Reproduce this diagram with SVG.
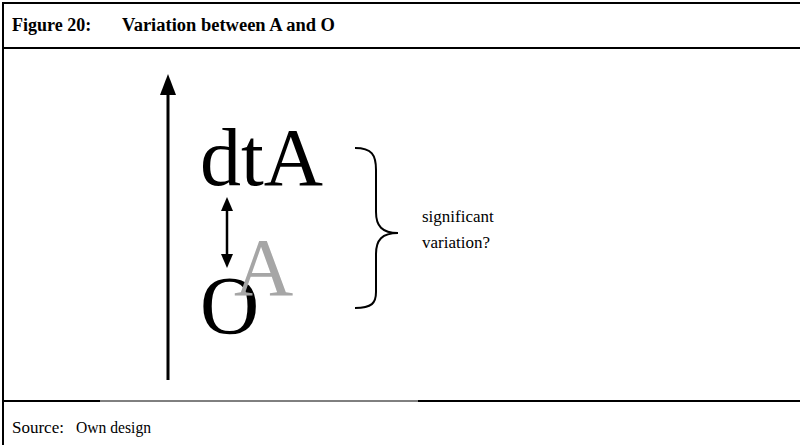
<svg xmlns="http://www.w3.org/2000/svg" width="800" height="445" viewBox="0 0 800 445">
<defs>
<style>
.frame{stroke:#000;stroke-width:2;fill:none}
.t{font-family:"Liberation Serif","Times New Roman",serif;fill:#000}
.big{font-family:"Liberation Serif","Times New Roman",serif;font-size:82px}
.line{stroke:#000;stroke-width:3;fill:none}
</style>
</defs>
<rect width="800" height="445" fill="#fff"/>
<g id="frame">
<line class="frame" x1="3" y1="3" x2="800" y2="3"/>
<line class="frame" x1="3" y1="2" x2="3" y2="445"/>
<line class="frame" x1="3" y1="48" x2="800" y2="48"/>
<line class="frame" x1="3" y1="401" x2="100" y2="401"/>
<line x1="100" y1="401" x2="418" y2="401" stroke="#000" stroke-width="1"/>
<line class="frame" x1="418" y1="401" x2="800" y2="401"/>
</g>
<g id="title"><text class="t" y="31" font-size="18" font-weight="bold"><tspan x="12">Figure 20:</tspan><tspan x="122" textLength="213" lengthAdjust="spacingAndGlyphs">Variation between A and O</tspan></text></g>
<g id="connectors">
<line class="line" x1="168" y1="380" x2="168" y2="92"/>
<path d="M160,95 L168,74 L176,95 z" fill="#000"/>
<line x1="227" y1="210" x2="227" y2="255" stroke="#000" stroke-width="2.5"/>
<path d="M221,211 L227,197 L233,211 z" fill="#000"/>
<path d="M221,254 L227,268 L233,254 z" fill="#000"/>
</g>
<g id="dtA"><text class="big" x="200" y="185">dtA</text></g>
<g id="O"><text class="big" x="200" y="333" font-size="78">O</text></g>
<g id="A"><text class="big" x="234" y="295" font-size="76" fill="#a6a6a6">A</text></g>
<g id="brace"><path d="M355,148 C372,148 376,155 376,170 L376,212 C376,226 382,233 398,233 C382,233 376,240 376,254 L376,292 C376,303 372,308 355,308" class="frame" stroke-width="1.8"/></g>
<g id="label"><text class="t" font-size="17"><tspan x="422" y="222">significant</tspan><tspan x="422" y="248">variation?</tspan></text></g>
<g id="source"><text class="t" y="433" font-size="17"><tspan x="12">Source:</tspan><tspan x="76" textLength="75" lengthAdjust="spacingAndGlyphs">Own design</tspan></text></g>
</svg>
